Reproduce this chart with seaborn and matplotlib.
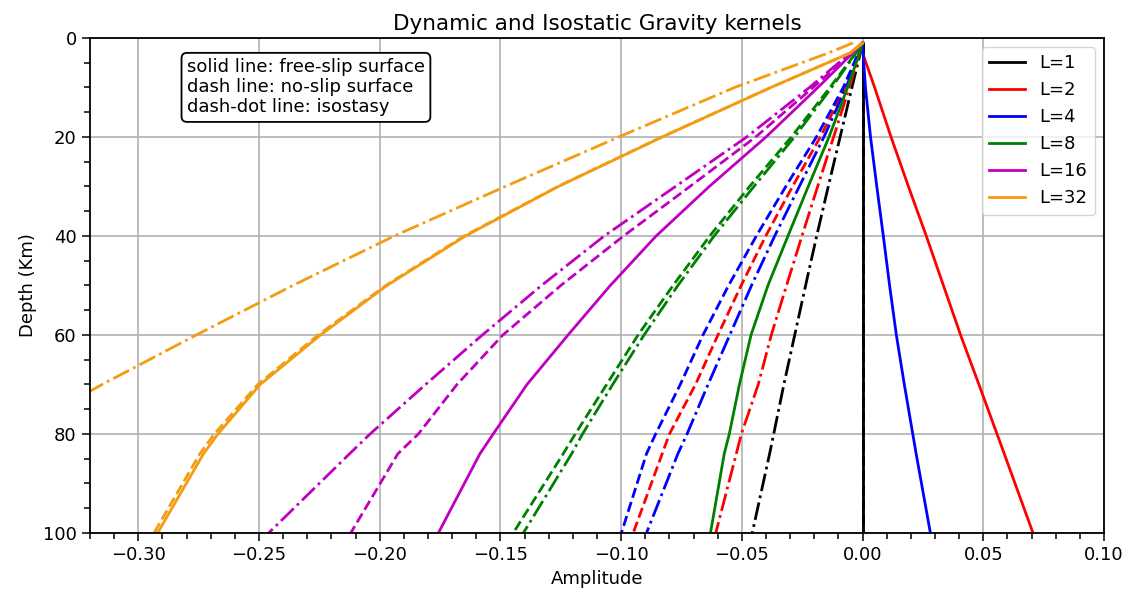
import numpy as np
import pandas as pd
import seaborn as sns
import matplotlib.pyplot as plt
from matplotlib.ticker import MultipleLocator

# depth samples (km)
depth = [1, 3, 10, 20, 30, 40, 50, 60, 70, 80, 84, 100]

degrees = [1, 2, 4, 8, 16, 32]
colors = ['black', 'red', 'blue', 'green', 'm', '#f39c12']

# free-slip surface (solid)
free_slip = {
    1: [0, 0, 0, 0, 0, 0, 0, 0, 0, 0, 0, 0],
    2: [0, 0, 0.0050, 0.0118, 0.0190, 0.0264, 0.0335, 0.0406, 0.0482, 0.0557, 0.0587, 0.0706],
    4: [0, 0.0002, 0.0012, 0.0033, 0.0059, 0.0086, 0.0112, 0.0140, 0.0173, 0.0208, 0.0222, 0.0281],
    8: [0, -0.0012, -0.0062, -0.0139, -0.0225, -0.0309, -0.0392, -0.0462, -0.0510, -0.0552, -0.0573, -0.0630],
    16: [0, -0.0040, -0.0185, -0.0400, -0.0635, -0.0855, -0.1045, -0.1220, -0.1390, -0.1530, -0.1585, -0.1757],
    32: [0, -0.0050, -0.0380, -0.0830, -0.1260, -0.1645, -0.1970, -0.2245, -0.2495, -0.2670, -0.2730, -0.2920],
}

# no-slip surface (dashed)
no_slip = {
    1: [0, 0, 0, 0, 0, 0, 0, 0, 0, 0, 0, 0],
    2: [0, -0.0015, -0.0072, -0.0175, -0.0290, -0.0401, -0.0503, -0.0599, -0.0692, -0.0800, -0.0830, -0.0950],
    4: [0, -0.0017, -0.0080, -0.0191, -0.0318, -0.0440, -0.0555, -0.0661, -0.0755, -0.0857, -0.0895, -0.0999],
    8: [0, -0.0028, -0.0135, -0.0295, -0.0468, -0.0633, -0.0785, -0.0930, -0.1060, -0.1190, -0.1240, -0.1447],
    16: [0, -0.0045, -0.0205, -0.0443, -0.0715, -0.0990, -0.1250, -0.1490, -0.1680, -0.1840, -0.1925, -0.2120],
    32: [0, -0.0050, -0.0380, -0.0832, -0.1262, -0.1650, -0.1975, -0.2255, -0.2505, -0.2685, -0.2745, -0.2935],
}

# isostasy (dash-dot)
isostasy = {
    1: [0, -0.0009, -0.0044, -0.0093, -0.0142, -0.0190, -0.0236, -0.0281, -0.0326, -0.0368, -0.0385, -0.0457],
    2: [0, -0.0011, -0.0055, -0.0120, -0.0186, -0.0251, -0.0315, -0.0378, -0.0432, -0.0502, -0.0523, -0.0608],
    4: [0, -0.0013, -0.0068, -0.0160, -0.0262, -0.0364, -0.0460, -0.0550, -0.0640, -0.0727, -0.0765, -0.0895],
    8: [0, -0.0026, -0.0128, -0.0282, -0.0450, -0.0615, -0.0765, -0.0905, -0.1035, -0.1160, -0.1205, -0.1405],
    16: [0, -0.0050, -0.0220, -0.0480, -0.0775, -0.1070, -0.1330, -0.1575, -0.1810, -0.2040, -0.2125, -0.2460],
    32: [-0.004, -0.0140, -0.0530, -0.1010, -0.1480, -0.1940, -0.2360, -0.2760, -0.3150, -0.3520, -0.3670, -0.4280],
}

fig, ax = plt.subplots(figsize=(11.28, 5.89), dpi=100)
fig.subplots_adjust(left=0.0798, right=0.9787, top=0.9355, bottom=0.0951)

lw = 2.0
for L, c in zip(degrees, colors):
    for kern, ls, lab in [(free_slip, '-', f'L={L}'),
                          (no_slip, '--', None),
                          (isostasy, '-.', None)]:
        df = pd.DataFrame({'amp': kern[L], 'depth': depth})
        sns.lineplot(data=df, x='amp', y='depth', sort=False, estimator=None,
                     color=c, linestyle=ls, linewidth=lw, label=lab, ax=ax)

ax.set_xlim(-0.32, 0.10)
ax.set_ylim(100, 0)
ax.xaxis.set_major_locator(MultipleLocator(0.05))
ax.xaxis.set_minor_locator(MultipleLocator(0.01))
ax.yaxis.set_major_locator(MultipleLocator(20))
ax.yaxis.set_minor_locator(MultipleLocator(5))
ax.tick_params(which='major', length=6, width=1.1, labelsize=13)
ax.tick_params(which='minor', length=4, width=1.1)
ax.grid(True, which='major', color='#b0b0b0', linewidth=1.2)
for s in ax.spines.values():
    s.set_linewidth(1.3)

ax.set_xlabel('Amplitude', fontsize=13)
ax.set_ylabel('Depth (Km)', fontsize=13)
ax.set_title('Dynamic and Isostatic Gravity kernels', fontsize=15.5)

ax.legend(loc='upper right', fontsize=13)

ax.text(0.0956, 0.959, 'solid line: free-slip surface\ndash line: no-slip surface\ndash-dot line: isostasy',
        transform=ax.transAxes, fontsize=13, va='top', ha='left', linespacing=1.15,
        bbox=dict(boxstyle='round,pad=0.3', facecolor='white', edgecolor='black', linewidth=1.3))

fig.savefig('out.png', dpi=100)
